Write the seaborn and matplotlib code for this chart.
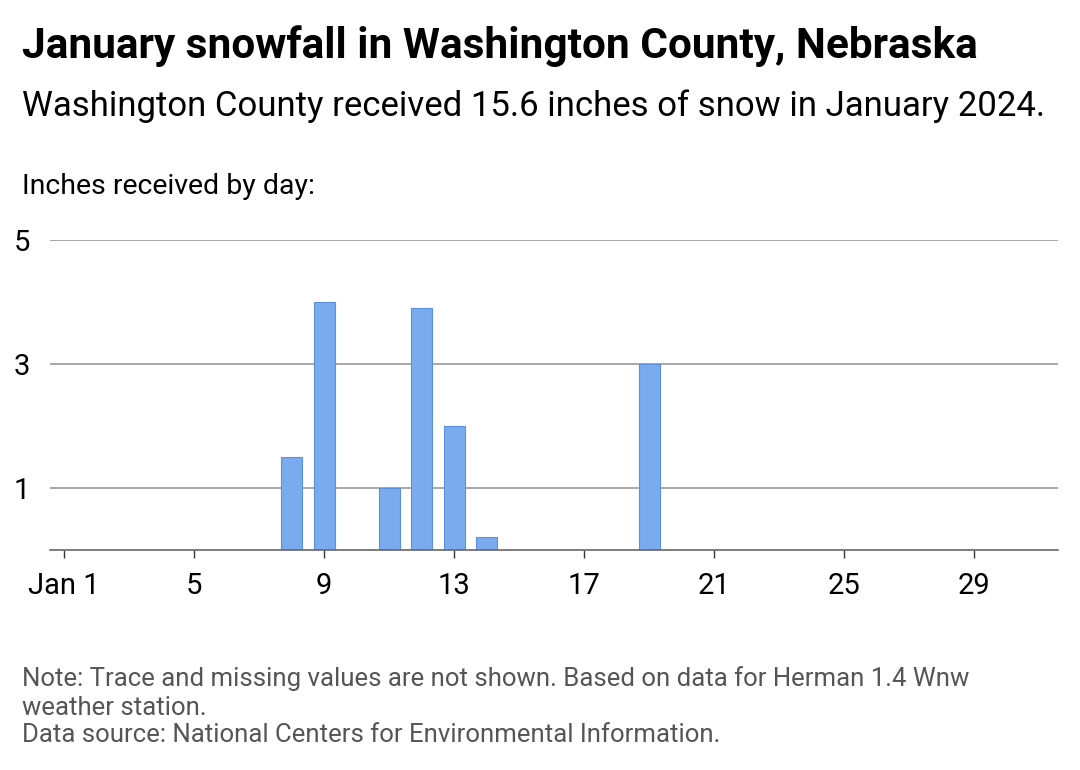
import matplotlib.pyplot as plt
import seaborn as sns
import pandas as pd

# snowfall data (inches by day, January 2024)
days = [8, 9, 11, 12, 13, 14, 19]
inches = [1.5, 4.0, 1.0, 3.9, 2.0, 0.2, 3.0]
x_ticks = [1, 5, 9, 13, 17, 21, 25, 29]
x_labels = ["Jan 1", "5", "9", "13", "17", "21", "25", "29"]
y_ticks = [1, 3, 5]

sns.set_style("white")
plt.rcParams["font.family"] = ["Roboto", "DejaVu Sans"]

df = pd.DataFrame({"day": days, "inches": inches})

fig = plt.figure(figsize=(10.8, 7.7), dpi=100)
ax = fig.add_axes([0.046, 0.286, 0.934, 0.402])

sns.barplot(data=df, x="day", y="inches", native_scale=True, width=0.65,
            color="#7aabef", edgecolor="#5b8fe0", linewidth=0.8, saturation=1, ax=ax)

ax.set_xlim(0.55, 31.6)
ax.set_ylim(0, 5)
ax.set_yticks(y_ticks)
ax.set_xticks(x_ticks)
ax.set_xticklabels(x_labels)
ax.grid(axis="y", color="#999999", linewidth=1.2)
ax.set_axisbelow(True)
for s in ["top", "right", "left"]:
    ax.spines[s].set_visible(False)
ax.spines["bottom"].set_color("#666666")
ax.spines["bottom"].set_linewidth(1.2)
ax.tick_params(axis="y", length=0, labelsize=21, pad=14, labelcolor="black")
ax.tick_params(axis="x", length=6, width=1, color="#333333", labelsize=21, pad=10,
               bottom=True, labelcolor="black")
ax.set_xlabel("")
ax.set_ylabel("")

# titles and notes
fig.text(0.02, 0.94, "January snowfall in Washington County, Nebraska", fontsize=30.5,
         fontweight="bold", va="center", color="black")
fig.text(0.02, 0.862, "Washington County received 15.6 inches of snow in January 2024.",
         fontsize=25, va="center", color="black")
fig.text(0.02, 0.758, "Inches received by day:", fontsize=20.5, va="center", color="black")
fig.text(0.02, 0.1, "Note: Trace and missing values are not shown. Based on data for Herman 1.4 Wnw\nweather station.",
         fontsize=18.5, color="#555555", va="center", linespacing=1.3)
fig.text(0.02, 0.045, "Data source: National Centers for Environmental Information.",
         fontsize=18.5, color="#555555", va="center")

fig.savefig("out.png", dpi=100)
